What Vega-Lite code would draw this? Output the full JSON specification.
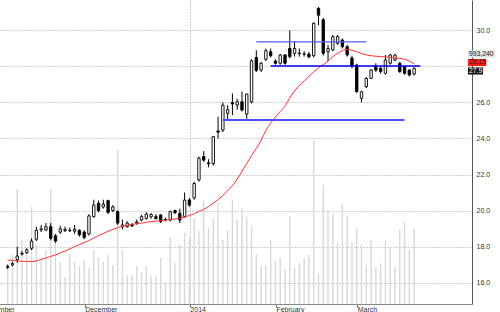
{
"$schema": "https://vega.github.io/schema/vega-lite/v6.json",
"width": 496, "height": 304,
"autosize": {"type": "none"},
"padding": {"left": -24, "top": 0, "right": 28, "bottom": 8},
"background": "#ffffff",
"config": {"view": {"stroke": null}, "font": "Liberation Sans", "axis": {"labelFont": "Liberation Sans", "labelFontSize": 7, "labelColor": "#333333"}},
"datasets": {
"prices": [
{"day":0,"open":16.9,"high":17.0,"low":16.75,"close":16.85,"ma":17.25,"volume":516000},
{"day":1,"open":16.97,"high":17.15,"low":16.9,"close":17.05,"ma":17.22,"volume":649000},
{"day":2,"open":17.28,"high":17.98,"low":17.1,"close":17.47,"ma":17.2,"volume":1523000},
{"day":3,"open":17.58,"high":17.75,"low":17.5,"close":17.62,"ma":17.18,"volume":847000},
{"day":4,"open":17.65,"high":17.9,"low":17.58,"close":17.82,"ma":17.17,"volume":649000},
{"day":5,"open":17.9,"high":18.45,"low":17.8,"close":18.3,"ma":17.17,"volume":1284000},
{"day":6,"open":18.4,"high":19.1,"low":18.3,"close":18.9,"ma":17.2,"volume":781000},
{"day":7,"open":18.92,"high":19.2,"low":18.8,"close":18.98,"ma":17.28,"volume":609000},
{"day":8,"open":18.92,"high":19.3,"low":18.85,"close":19.1,"ma":17.37,"volume":715000},
{"day":9,"open":19.1,"high":19.3,"low":18.35,"close":18.45,"ma":17.45,"volume":1523000},
{"day":10,"open":18.6,"high":18.7,"low":18.2,"close":18.3,"ma":17.53,"volume":847000},
{"day":11,"open":18.8,"high":19.15,"low":18.7,"close":18.98,"ma":17.65,"volume":556000},
{"day":12,"open":18.88,"high":19.1,"low":18.8,"close":18.95,"ma":17.75,"volume":357000},
{"day":13,"open":18.9,"high":19.05,"low":18.8,"close":18.88,"ma":17.87,"volume":662000},
{"day":14,"open":18.85,"high":19.2,"low":18.7,"close":18.95,"ma":18.0,"volume":556000},
{"day":15,"open":18.9,"high":18.95,"low":18.55,"close":18.65,"ma":18.1,"volume":503000},
{"day":16,"open":18.8,"high":18.9,"low":18.4,"close":18.5,"ma":18.22,"volume":583000},
{"day":17,"open":18.7,"high":19.8,"low":18.6,"close":19.7,"ma":18.33,"volume":477000},
{"day":18,"open":19.66,"high":20.6,"low":19.6,"close":20.3,"ma":18.47,"volume":715000},
{"day":19,"open":20.4,"high":20.55,"low":19.9,"close":20.0,"ma":18.6,"volume":609000},
{"day":20,"open":20.2,"high":20.6,"low":20.1,"close":20.35,"ma":18.72,"volume":556000},
{"day":21,"open":20.55,"high":20.6,"low":19.8,"close":19.9,"ma":18.85,"volume":649000},
{"day":22,"open":20.0,"high":20.3,"low":19.9,"close":20.2,"ma":18.95,"volume":516000},
{"day":23,"open":19.95,"high":20.0,"low":19.2,"close":19.3,"ma":19.05,"volume":2039000},
{"day":24,"open":19.1,"high":19.5,"low":18.95,"close":19.2,"ma":19.12,"volume":715000},
{"day":25,"open":19.1,"high":19.4,"low":19.05,"close":19.3,"ma":19.18,"volume":384000},
{"day":26,"open":19.22,"high":19.3,"low":19.1,"close":19.14,"ma":19.23,"volume":384000},
{"day":27,"open":19.3,"high":19.5,"low":19.2,"close":19.36,"ma":19.27,"volume":503000},
{"day":28,"open":19.47,"high":19.75,"low":19.4,"close":19.66,"ma":19.3,"volume":424000},
{"day":29,"open":19.56,"high":19.9,"low":19.5,"close":19.8,"ma":19.34,"volume":503000},
{"day":30,"open":19.65,"high":19.85,"low":19.55,"close":19.78,"ma":19.38,"volume":371000},
{"day":31,"open":19.66,"high":19.8,"low":19.5,"close":19.55,"ma":19.41,"volume":371000},
{"day":32,"open":19.75,"high":19.8,"low":19.3,"close":19.4,"ma":19.44,"volume":609000},
{"day":33,"open":19.48,"high":19.6,"low":19.4,"close":19.5,"ma":19.47,"volume":291000},
{"day":34,"open":19.47,"high":20.0,"low":19.4,"close":19.93,"ma":19.5,"volume":887000},
{"day":35,"open":20.0,"high":20.05,"low":19.8,"close":19.88,"ma":19.53,"volume":543000},
{"day":36,"open":19.84,"high":20.1,"low":19.3,"close":19.47,"ma":19.57,"volume":781000},
{"day":37,"open":19.66,"high":21.0,"low":19.6,"close":20.58,"ma":19.64,"volume":944000},
{"day":38,"open":20.58,"high":20.7,"low":20.2,"close":20.3,"ma":19.72,"volume":891000},
{"day":39,"open":20.7,"high":21.6,"low":20.6,"close":21.5,"ma":19.82,"volume":1135000},
{"day":40,"open":21.7,"high":23.0,"low":21.6,"close":22.9,"ma":19.95,"volume":967000},
{"day":41,"open":23.0,"high":23.3,"low":22.7,"close":22.8,"ma":20.06,"volume":1364000},
{"day":42,"open":22.65,"high":22.85,"low":22.4,"close":22.6,"ma":20.22,"volume":1010000},
{"day":43,"open":22.6,"high":24.15,"low":22.5,"close":24.1,"ma":20.4,"volume":1135000},
{"day":44,"open":24.42,"high":25.2,"low":24.0,"close":24.35,"ma":20.6,"volume":1341000},
{"day":45,"open":24.47,"high":26.0,"low":24.35,"close":25.85,"ma":20.84,"volume":847000},
{"day":46,"open":25.4,"high":25.85,"low":25.05,"close":25.6,"ma":21.1,"volume":967000},
{"day":47,"open":26.0,"high":26.5,"low":25.3,"close":25.92,"ma":21.38,"volume":1377000},
{"day":48,"open":25.86,"high":26.2,"low":25.6,"close":26.04,"ma":21.75,"volume":1112000},
{"day":49,"open":26.04,"high":26.6,"low":25.5,"close":25.58,"ma":22.18,"volume":1275000},
{"day":50,"open":25.36,"high":26.5,"low":25.1,"close":26.47,"ma":22.6,"volume":1156000},
{"day":51,"open":26.04,"high":28.4,"low":25.95,"close":28.32,"ma":23.05,"volume":1023000},
{"day":52,"open":28.5,"high":28.9,"low":27.7,"close":27.78,"ma":23.45,"volume":658000},
{"day":53,"open":27.8,"high":28.25,"low":27.7,"close":28.18,"ma":23.9,"volume":503000},
{"day":54,"open":28.4,"high":29.0,"low":28.3,"close":28.88,"ma":24.45,"volume":503000},
{"day":55,"open":28.82,"high":29.0,"low":28.5,"close":28.6,"ma":24.85,"volume":847000},
{"day":56,"open":28.3,"high":28.4,"low":28.1,"close":28.18,"ma":25.2,"volume":569000},
{"day":57,"open":28.18,"high":28.7,"low":28.1,"close":28.64,"ma":25.5,"volume":613000},
{"day":58,"open":28.64,"high":28.7,"low":28.1,"close":28.18,"ma":25.8,"volume":459000},
{"day":59,"open":29.0,"high":30.0,"low":28.45,"close":28.55,"ma":26.25,"volume":1165000},
{"day":60,"open":28.73,"high":29.4,"low":28.55,"close":29.0,"ma":26.65,"volume":486000},
{"day":61,"open":28.75,"high":29.0,"low":28.55,"close":28.72,"ma":26.95,"volume":547000},
{"day":62,"open":28.68,"high":28.85,"low":28.55,"close":28.7,"ma":27.2,"volume":605000},
{"day":63,"open":28.69,"high":28.8,"low":28.45,"close":28.54,"ma":27.45,"volume":649000},
{"day":64,"open":28.6,"high":30.45,"low":28.5,"close":30.4,"ma":27.7,"volume":2171000},
{"day":65,"open":31.23,"high":31.3,"low":30.3,"close":30.85,"ma":27.92,"volume":406000},
{"day":66,"open":30.6,"high":30.7,"low":28.6,"close":28.73,"ma":28.1,"volume":1576000},
{"day":67,"open":28.82,"high":29.2,"low":28.3,"close":29.0,"ma":28.3,"volume":1245000},
{"day":68,"open":28.92,"high":29.75,"low":28.85,"close":29.66,"ma":28.55,"volume":1201000},
{"day":69,"open":29.29,"high":29.75,"low":29.2,"close":29.66,"ma":28.73,"volume":804000},
{"day":70,"open":29.47,"high":29.55,"low":29.0,"close":29.1,"ma":28.88,"volume":1324000},
{"day":71,"open":29.1,"high":29.2,"low":28.55,"close":28.64,"ma":28.95,"volume":1165000},
{"day":72,"open":28.47,"high":28.6,"low":27.9,"close":28.03,"ma":28.9,"volume":812000},
{"day":73,"open":28.08,"high":28.15,"low":26.55,"close":26.6,"ma":28.82,"volume":1010000},
{"day":74,"open":26.23,"high":26.65,"low":26.0,"close":26.6,"ma":28.72,"volume":781000},
{"day":75,"open":26.88,"high":27.4,"low":26.8,"close":27.34,"ma":28.64,"volume":516000},
{"day":76,"open":27.34,"high":27.85,"low":27.3,"close":27.8,"ma":28.6,"volume":847000},
{"day":77,"open":28.03,"high":28.18,"low":27.7,"close":27.8,"ma":28.57,"volume":494000},
{"day":78,"open":27.9,"high":28.0,"low":27.6,"close":27.72,"ma":28.55,"volume":539000},
{"day":79,"open":27.62,"high":28.64,"low":27.55,"close":28.36,"ma":28.53,"volume":838000},
{"day":80,"open":28.18,"high":28.7,"low":28.1,"close":28.64,"ma":28.5,"volume":737000},
{"day":81,"open":28.36,"high":28.7,"low":28.3,"close":28.64,"ma":28.48,"volume":494000},
{"day":82,"open":28.18,"high":28.25,"low":27.65,"close":27.71,"ma":28.45,"volume":989000},
{"day":83,"open":27.99,"high":28.05,"low":27.55,"close":27.62,"ma":28.4,"volume":1090000},
{"day":84,"open":27.8,"high":27.85,"low":27.45,"close":27.53,"ma":28.3,"volume":715000},
{"day":85,"open":27.58,"high":27.95,"low":27.5,"close":27.9,"ma":28.15,"volume":993240}
],
"levels": [
{"name":"upper","start":52,"end":75,"level":29.37},
{"name":"middle","start":55,"end":86.3,"level":28.03},
{"name":"lower","start":45,"end":83,"level":25.03}
],
"tags": [
{"name":"volume","label":"993,240","from":96.26,"to":101.9,"top":28.889,"bottom":28.5,"mid":28.694},
{"name":"ma","label":"28.15","from":96.26,"to":100.1,"top":28.416,"bottom":28.028,"mid":28.222},
{"name":"close","label":"27.9","from":96.26,"to":99.4,"top":27.944,"bottom":27.555,"mid":27.75}
]
},
"data": {"name": "prices"},
"encoding": {
"x": {"field":"day","type":"quantitative","scale":{"domain":[-5.579,96.06],"nice":false,"zero":false},
"axis":{"title":null,"values":[-5.42,16.1,38.1,56.1,73.1],"labelExpr":"datum.value < 0 ? 'November' : datum.value < 20 ? 'December' : datum.value < 45 ? '2014' : datum.value < 65 ? 'February' : 'March'","labelAlign":"left","labelBaseline":"top","labelDx":2,"labelPadding":-2,"tickSize":3,"tickColor":"#666666","domainColor":"#888888","labelFlush":false,"labelOverlap":false,"labelBound":false,"grid":true,"gridColor":"#a0a0a0","gridDash":[1,2],"gridOpacity":{"condition":{"test":"datum.value > 30 && datum.value < 45","value":1},"value":0}}}
},
"layer": [
{"mark":{"type":"rule","color":"#d8d8d8","strokeWidth":1.4},
 "encoding":{"y":{"field":"volume","type":"quantitative","scale":{"domain":[0,4026000],"nice":false,"zero":true},"axis":null},"y2":{"datum":0}}},
{"layer":[
 {"mark":{"type":"rule","color":"#000000","strokeWidth":1},
  "encoding":{"y":{"field":"low","type":"quantitative","scale":{"domain":[14.806,31.694],"nice":false,"zero":false},"axis":{"title":null,"orient":"right","values":[16,18,20,22,24,26,28,30],"format":".1f","labelExpr":"datum.value == 28 ? '' : datum.label","ticks":false,"labelPadding":4,"domainColor":"#555555","grid":true,"gridColor":"#a0a0a0","gridDash":[1,2]}},"y2":{"field":"high"}}},
 {"mark":{"type":"bar","size":2.4,"stroke":"#000000","strokeWidth":0.9},
  "encoding":{"y":{"field":"open","type":"quantitative","scale":{"domain":[14.806,31.694],"nice":false,"zero":false},"axis":{"title":null,"orient":"right","values":[16,18,20,22,24,26,28,30],"format":".1f","labelExpr":"datum.value == 28 ? '' : datum.label","ticks":false,"labelPadding":4,"domainColor":"#555555","grid":true,"gridColor":"#a0a0a0","gridDash":[1,2]}},"y2":{"field":"close"},
  "fill":{"condition":{"test":"datum.close >= datum.open","value":"#ffffff"},"value":"#000000"}}},
 {"mark":{"type":"line","color":"#ff3030","strokeWidth":1,"interpolate":"monotone"},
  "encoding":{"y":{"field":"ma","type":"quantitative","scale":{"domain":[14.806,31.694],"nice":false,"zero":false},"axis":{"title":null,"orient":"right","values":[16,18,20,22,24,26,28,30],"format":".1f","labelExpr":"datum.value == 28 ? '' : datum.label","ticks":false,"labelPadding":4,"domainColor":"#555555","grid":true,"gridColor":"#a0a0a0","gridDash":[1,2]}}}},
 {"data":{"name":"levels"},"mark":{"type":"rule"},
  "encoding":{"x":{"field":"start","type":"quantitative","scale":{"domain":[-5.579,96.06],"nice":false,"zero":false},
"axis":{"title":null,"values":[-5.42,16.1,38.1,56.1,73.1],"labelExpr":"datum.value < 0 ? 'November' : datum.value < 20 ? 'December' : datum.value < 45 ? '2014' : datum.value < 65 ? 'February' : 'March'","labelAlign":"left","labelBaseline":"top","labelDx":2,"labelPadding":-2,"tickSize":3,"tickColor":"#666666","domainColor":"#888888","labelFlush":false,"labelOverlap":false,"labelBound":false,"grid":true,"gridColor":"#a0a0a0","gridDash":[1,2],"gridOpacity":{"condition":{"test":"datum.value > 30 && datum.value < 45","value":1},"value":0}}},
  "x2":{"field":"end"},
  "y":{"field":"level","type":"quantitative","scale":{"domain":[14.806,31.694],"nice":false,"zero":false},"axis":{"title":null,"orient":"right","values":[16,18,20,22,24,26,28,30],"format":".1f","labelExpr":"datum.value == 28 ? '' : datum.label","ticks":false,"labelPadding":4,"domainColor":"#555555","grid":true,"gridColor":"#a0a0a0","gridDash":[1,2]}},
  "color":{"field":"name","type":"nominal","scale":{"domain":["upper","middle","lower"],"range":["#5a5aff","#0000ee","#4d4dff"]},"legend":null},
  "strokeWidth":{"field":"name","type":"nominal","scale":{"domain":["upper","middle","lower"],"range":[1.3,2,1.1]},"legend":null}}},
 {"data":{"name":"tags"},"mark":{"type":"rect","clip":false},
  "encoding":{"x":{"field":"from","type":"quantitative","scale":{"domain":[-5.579,96.06],"nice":false,"zero":false},
"axis":{"title":null,"values":[-5.42,16.1,38.1,56.1,73.1],"labelExpr":"datum.value < 0 ? 'November' : datum.value < 20 ? 'December' : datum.value < 45 ? '2014' : datum.value < 65 ? 'February' : 'March'","labelAlign":"left","labelBaseline":"top","labelDx":2,"labelPadding":-2,"tickSize":3,"tickColor":"#666666","domainColor":"#888888","labelFlush":false,"labelOverlap":false,"labelBound":false,"grid":true,"gridColor":"#a0a0a0","gridDash":[1,2],"gridOpacity":{"condition":{"test":"datum.value > 30 && datum.value < 45","value":1},"value":0}}},
  "x2":{"field":"to"},
  "y":{"field":"top","type":"quantitative","scale":{"domain":[14.806,31.694],"nice":false,"zero":false},"axis":{"title":null,"orient":"right","values":[16,18,20,22,24,26,28,30],"format":".1f","labelExpr":"datum.value == 28 ? '' : datum.label","ticks":false,"labelPadding":4,"domainColor":"#555555","grid":true,"gridColor":"#a0a0a0","gridDash":[1,2]}},
  "y2":{"field":"bottom"},
  "fill":{"field":"name","type":"nominal","scale":{"domain":["volume","ma","close"],"range":["#e4e4e4","#ff1a1a","#111111"]},"legend":null}}},
 {"data":{"name":"tags"},"transform":[{"filter":"datum.name != 'close'"}],"mark":{"type":"text","align":"left","baseline":"middle","fontSize":6.8,"dx":1,"clip":false,"color":"#222222"},
  "encoding":{"x":{"field":"from","type":"quantitative","scale":{"domain":[-5.579,96.06],"nice":false,"zero":false},
"axis":{"title":null,"values":[-5.42,16.1,38.1,56.1,73.1],"labelExpr":"datum.value < 0 ? 'November' : datum.value < 20 ? 'December' : datum.value < 45 ? '2014' : datum.value < 65 ? 'February' : 'March'","labelAlign":"left","labelBaseline":"top","labelDx":2,"labelPadding":-2,"tickSize":3,"tickColor":"#666666","domainColor":"#888888","labelFlush":false,"labelOverlap":false,"labelBound":false,"grid":true,"gridColor":"#a0a0a0","gridDash":[1,2],"gridOpacity":{"condition":{"test":"datum.value > 30 && datum.value < 45","value":1},"value":0}}},
  "y":{"field":"mid","type":"quantitative","scale":{"domain":[14.806,31.694],"nice":false,"zero":false},"axis":{"title":null,"orient":"right","values":[16,18,20,22,24,26,28,30],"format":".1f","labelExpr":"datum.value == 28 ? '' : datum.label","ticks":false,"labelPadding":4,"domainColor":"#555555","grid":true,"gridColor":"#a0a0a0","gridDash":[1,2]}},
  "text":{"field":"label"}}},
 {"data":{"name":"tags"},"transform":[{"filter":"datum.name == 'close'"}],"mark":{"type":"text","align":"left","baseline":"middle","fontSize":6.8,"dx":1,"clip":false,"color":"#ffffff"},
  "encoding":{"x":{"field":"from","type":"quantitative","scale":{"domain":[-5.579,96.06],"nice":false,"zero":false},
"axis":{"title":null,"values":[-5.42,16.1,38.1,56.1,73.1],"labelExpr":"datum.value < 0 ? 'November' : datum.value < 20 ? 'December' : datum.value < 45 ? '2014' : datum.value < 65 ? 'February' : 'March'","labelAlign":"left","labelBaseline":"top","labelDx":2,"labelPadding":-2,"tickSize":3,"tickColor":"#666666","domainColor":"#888888","labelFlush":false,"labelOverlap":false,"labelBound":false,"grid":true,"gridColor":"#a0a0a0","gridDash":[1,2],"gridOpacity":{"condition":{"test":"datum.value > 30 && datum.value < 45","value":1},"value":0}}},
  "y":{"field":"mid","type":"quantitative","scale":{"domain":[14.806,31.694],"nice":false,"zero":false},"axis":{"title":null,"orient":"right","values":[16,18,20,22,24,26,28,30],"format":".1f","labelExpr":"datum.value == 28 ? '' : datum.label","ticks":false,"labelPadding":4,"domainColor":"#555555","grid":true,"gridColor":"#a0a0a0","gridDash":[1,2]}},
  "text":{"field":"label"}}}
]}
],
"resolve": {"scale": {"y": "independent"}}
}
